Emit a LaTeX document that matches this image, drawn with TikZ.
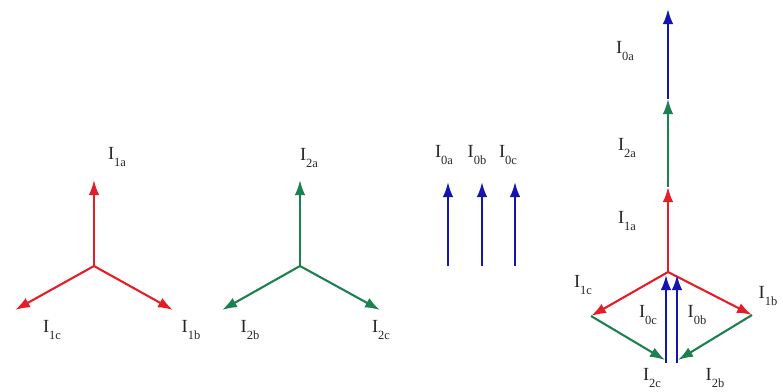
\documentclass[tikz,border=0pt]{standalone}
\usepackage{fontspec}
\setmainfont{Liberation Serif}
\usepackage{xcolor}
\usetikzlibrary{arrows.meta}

\definecolor{posred}{RGB}{228,30,40}
\definecolor{neggreen}{RGB}{28,128,80}
\definecolor{zeroblue}{RGB}{22,20,175}
\newcommand{\cur}[1]{I\raisebox{-7pt}{\fontsize{12.5}{13}\selectfont #1}}

\begin{document}
\begin{tikzpicture}[x=1pt, y=-1pt,
      phasor/.style={-{Latex[length=15pt,width=10.5pt]}, line width=2.1pt},
      lbl/.style={font=\fontsize{18.5}{20}\selectfont, inner sep=0pt, text=black!85}]
    \useasboundingbox (0,0) rectangle (783,391);

    % positive sequence
    \coordinate (p0) at (94,266);
    \coordinate (pa) at (94,180);
    \coordinate (pb) at (173,310);
    \coordinate (pc) at (15,310);
    \draw[phasor, posred] (p0) -- (pa);
    \draw[phasor, posred] (p0) -- (pb);
    \draw[phasor, posred] (p0) -- (pc);
    \node[lbl] (l1a) at (117,157) {\cur{1a}};
    \node[lbl] (l1b) at (191,330) {\cur{1b}};
    \node[lbl] (l1c) at (52,330) {\cur{1c}};

    % negative sequence
    \coordinate (n0) at (300,266);
    \coordinate (na) at (300,180);
    \coordinate (nb) at (222,310);
    \coordinate (nc) at (380,310);
    \draw[phasor, neggreen] (n0) -- (na);
    \draw[phasor, neggreen] (n0) -- (nb);
    \draw[phasor, neggreen] (n0) -- (nc);
    \node[lbl] (l2a) at (309,158) {\cur{2a}};
    \node[lbl] (l2b) at (250,330) {\cur{2b}};
    \node[lbl] (l2c) at (381,330) {\cur{2c}};

    % zero sequence
    \foreach \x/\p in {448/a, 482/b, 515/c} {
      \coordinate (z\p0) at (\x,266);
      \coordinate (z\p1) at (\x,182);
      \draw[phasor, zeroblue] (z\p0) -- (z\p1);
    }
    \node[lbl] (l0a) at (444,155) {\cur{0a}};
    \node[lbl] (l0b) at (477,155) {\cur{0b}};
    \node[lbl] (l0c) at (508,155) {\cur{0c}};

    % sum of the three
    \coordinate (s0) at (668,272);
    \coordinate (s1) at (668,187);
    \coordinate (s2) at (668,99);
    \coordinate (s3) at (668,9);
    \coordinate (sb) at (752,315);
    \coordinate (sc) at (591,316);
    \coordinate (sbb) at (678,360);
    \coordinate (scc) at (665,360);
    \coordinate (zc0) at (666,363);
    \coordinate (zc1) at (666,275);
    \coordinate (zb0) at (677,363);
    \coordinate (zb1) at (677,275);
    \draw[phasor, posred] (s0) -- (s1);
    \draw[phasor, neggreen] (s1) -- (s2);
    \draw[phasor, zeroblue] (s2) -- (s3);
    \draw[phasor, posred] (s0) -- (sb);
    \draw[phasor, posred] (s0) -- (sc);
    \draw[phasor, neggreen] (sb) -- (sbb);
    \draw[phasor, neggreen] (sc) -- (scc);
    \draw[phasor, zeroblue] (zc0) -- (zc1);
    \draw[phasor, zeroblue] (zb0) -- (zb1);
    \node[lbl] (s0a) at (625,51) {\cur{0a}};
    \node[lbl] (s2a) at (627,148) {\cur{2a}};
    \node[lbl] (s1a) at (627,221) {\cur{1a}};
    \node[lbl] (s1c) at (583,285) {\cur{1c}};
    \node[lbl] (s1b) at (768,296) {\cur{1b}};
    \node[lbl] (s0c) at (648,315) {\cur{0c}};
    \node[lbl] (s0b) at (697,315) {\cur{0b}};
    \node[lbl] (s2c) at (652,378) {\cur{2c}};
    \node[lbl] (s2b) at (715,378) {\cur{2b}};
  \end{tikzpicture}
\end{document}
